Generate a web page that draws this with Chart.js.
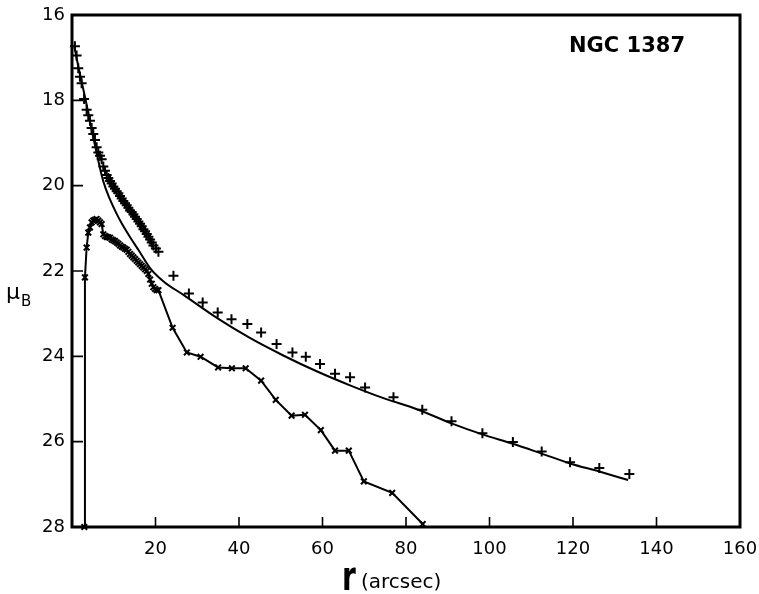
<!DOCTYPE html>
<html>
<head>
<meta charset="utf-8">
<script src="https://cdn.jsdelivr.net/npm/chart.js@4.4.1/dist/chart.umd.min.js"></script>
<style>
    html, body { margin: 0; padding: 0; background: #fff; }
</style>
</head>
<body>
<canvas id="profil" width="759" height="594"></canvas>
<script>
// ── Données (r en arcsec, μB en mag/arcsec²) ────────────────────────────
const R_GRAND_AXE = [
    0.7, 1.1, 1.5, 1.9, 2.3, 2.9, 3.5, 3.9, 4.3, 4.7, 5.1, 5.5, 5.9, 6.3, 6.7,
    7.1, 7.5, 7.9, 8.3, 8.7, 9.1, 9.5, 9.9, 10.3, 10.7, 11.1, 11.5, 11.9, 12.3,
    12.7, 13.1, 13.5, 13.9, 14.3, 14.7, 15.1, 15.5, 15.9, 16.3, 16.7, 17.1, 17.5,
    17.9, 18.3, 18.7, 19.1, 19.5, 20.1, 20.7,
    24.3, 28.0, 31.3, 34.9, 38.2, 42.0, 45.3, 49.0, 52.8, 56.0, 59.4, 63.0, 66.6,
    70.2, 77.0, 83.9, 90.9, 98.3, 105.6, 112.5, 119.3, 126.3, 133.5,
];
const MU_GRAND_AXE = [
    16.73, 16.95, 17.25, 17.45, 17.6, 17.97, 18.22, 18.35, 18.48, 18.65, 18.79, 18.93, 19.1, 19.22, 19.3,
    19.38, 19.55, 19.65, 19.75, 19.82, 19.89, 19.95, 20.02, 20.07, 20.13, 20.18, 20.24, 20.3, 20.36,
    20.41, 20.46, 20.52, 20.58, 20.62, 20.67, 20.73, 20.78, 20.84, 20.89, 20.95, 21.02, 21.07,
    21.13, 21.2, 21.26, 21.33, 21.4, 21.47, 21.55,
    22.11, 22.53, 22.74, 22.97, 23.13, 23.24, 23.44, 23.71, 23.91, 24.01, 24.18, 24.41, 24.49,
    24.73, 24.96, 25.25, 25.52, 25.8, 26.01, 26.23, 26.48, 26.62, 26.76,
];

const R_PETIT_AXE = [
    2.95, 3.1, 3.5, 3.9, 4.3, 4.7, 5.1, 5.5, 5.9, 6.3, 6.7, 7.1, 7.5, 7.9, 8.3,
    8.7, 9.1, 9.5, 9.9, 10.3, 10.7, 11.1, 11.5, 11.9, 12.3, 12.7, 13.1, 13.5, 13.9,
    14.3, 14.7, 15.1, 15.5, 15.9, 16.3, 16.7, 17.1, 17.5, 17.9, 18.3, 18.7, 19.1,
    19.5, 19.9, 20.3, 20.7,
    24.1, 27.5, 30.8, 35.0, 38.3, 41.6, 45.3, 48.8, 52.6, 55.8, 59.6, 63.0, 66.3,
    69.9, 76.7, 84.0,
];
const MU_PETIT_AXE = [
    28.0, 22.15, 21.45, 21.1, 20.98, 20.86, 20.82, 20.8, 20.78, 20.82, 20.86, 20.9, 21.14, 21.18, 21.2,
    21.21, 21.22, 21.26, 21.28, 21.3, 21.33, 21.36, 21.4, 21.43, 21.45, 21.48, 21.5, 21.55, 21.6,
    21.64, 21.68, 21.72, 21.76, 21.8, 21.84, 21.88, 21.92, 21.96, 22.0, 22.07, 22.2, 22.3,
    22.38, 22.42, 22.45, 22.45,
    23.33, 23.91, 24.01, 24.26, 24.28, 24.28, 24.57, 25.02, 25.39, 25.37, 25.73, 26.21, 26.21,
    26.93, 27.2, 27.93,
];

const R_MODELE = [
    0.6, 1.5, 2.5, 3.5, 4.5, 5.5, 6.5, 7.5, 9, 10.5, 12, 14, 16, 18.7, 22, 26.7,
    34.7, 42.6, 50.6, 58.6, 66.6, 74.6, 82.6, 90.9, 98.3, 105.6, 112.5, 119.3, 126.3, 133.2,
];
const MU_MODELE = [
    16.75, 17.2, 17.65, 18.1, 18.6, 19.05, 19.5, 19.9, 20.3, 20.62, 20.9, 21.22, 21.52, 21.93, 22.25, 22.56,
    23.1, 23.57, 23.98, 24.35, 24.68, 24.98, 25.24, 25.57, 25.83, 26.05, 26.28, 26.51, 26.7, 26.9,
];

const GRAD_X = [20, 40, 60, 80, 100, 120, 140];
const GRAD_Y = [18, 20, 22, 24, 26];
const TITRE  = 'NGC 1387';

// ── Helpers ───────────────────────────────────────────────────────────
const POLICE = '"DejaVu Sans", sans-serif';
const points = (xs, ys) => xs.map((x, i) => ({ x, y: ys[i] }));

/** Cadre épais, graduations intérieures et textes libres */
const cadre = {
    id: 'cadre',
    afterDatasetsDraw(chart) {
        const { ctx, chartArea: a, scales: { x, y } } = chart;
        ctx.save();
        ctx.strokeStyle = '#000';
        ctx.fillStyle   = '#000';

        ctx.lineWidth = 1.6;
        ctx.beginPath();
        GRAD_X.forEach(v => {
            const px = x.getPixelForValue(v);
            ctx.moveTo(px, a.bottom);
            ctx.lineTo(px, a.bottom - 10);
        });
        GRAD_Y.forEach(v => {
            const py = y.getPixelForValue(v);
            ctx.moveTo(a.left, py);
            ctx.lineTo(a.left + 11, py);
        });
        ctx.stroke();

        ctx.lineWidth = 3;
        ctx.strokeRect(a.left, a.top, a.right - a.left, a.bottom - a.top);

        // titre
        ctx.font = 'bold 21px ' + POLICE;
        ctx.textAlign = 'center';
        ctx.textBaseline = 'middle';
        ctx.fillText(TITRE, 627, 47);

        // axe X : « r (arcsec) »
        ctx.textAlign = 'left';
        ctx.textBaseline = 'alphabetic';
        ctx.save();
        ctx.translate(342, 590);
        ctx.scale(0.7, 1);
        ctx.font = 'bold 40px ' + POLICE;
        ctx.fillText('r', 0, 0);
        ctx.restore();
        ctx.font = '20px ' + POLICE;
        ctx.fillText('(arcsec)', 361, 588);

        // axe Y : μB
        ctx.font = '22px ' + POLICE;
        ctx.fillText('μ', 6, 299);
        ctx.font = '15px ' + POLICE;
        ctx.fillText('B', 21, 306);

        ctx.restore();
    },
};

new Chart(document.getElementById('profil'), {
    type: 'scatter',
    data: {
        datasets: [
            {
                label:            'modèle',
                data:             points(R_MODELE, MU_MODELE),
                showLine:         true,
                pointRadius:      0,
                borderColor:      '#000',
                borderWidth:      2,
                cubicInterpolationMode: 'monotone',
            },
            {
                label:            'grand axe',
                data:             points(R_GRAND_AXE, MU_GRAND_AXE),
                showLine:         false,
                pointStyle:       'cross',
                pointRadius:      5,
                borderColor:      '#000',
                borderWidth:      2,
                clip:             8,
            },
            {
                label:            'petit axe',
                data:             points(R_PETIT_AXE, MU_PETIT_AXE),
                showLine:         true,
                pointStyle:       'crossRot',
                pointRadius:      4,
                borderColor:      '#000',
                borderWidth:      2,
                clip:             8,
            },
        ],
    },
    options: {
        responsive: false,
        animation:  false,
        layout: { padding: { top: 15, right: 19, left: 0, bottom: 0 } },
        plugins: { legend: { display: false }, tooltip: { enabled: false } },
        scales: {
            x: {
                type: 'linear', min: 0, max: 160,
                grid:   { display: false, drawTicks: false },
                border: { display: false },
                ticks:  {
                    stepSize: 20, padding: 12, color: '#000',
                    font: { family: POLICE, size: 18 },
                    callback: v => (v === 0 ? '' : v),
                },
                afterFit: s => { s.height = 67; s.paddingLeft = 0; s.paddingRight = 0; },
            },
            y: {
                type: 'linear', min: 16, max: 28, reverse: true,
                grid:   { display: false, drawTicks: false },
                border: { display: false },
                ticks:  {
                    stepSize: 2, padding: 7, color: '#000',
                    font: { family: POLICE, size: 18 },
                },
                afterFit: s => { s.width = 72; s.paddingTop = 0; s.paddingBottom = 0; },
            },
        },
    },
    plugins: [cadre],
});
</script>
</body>
</html>
